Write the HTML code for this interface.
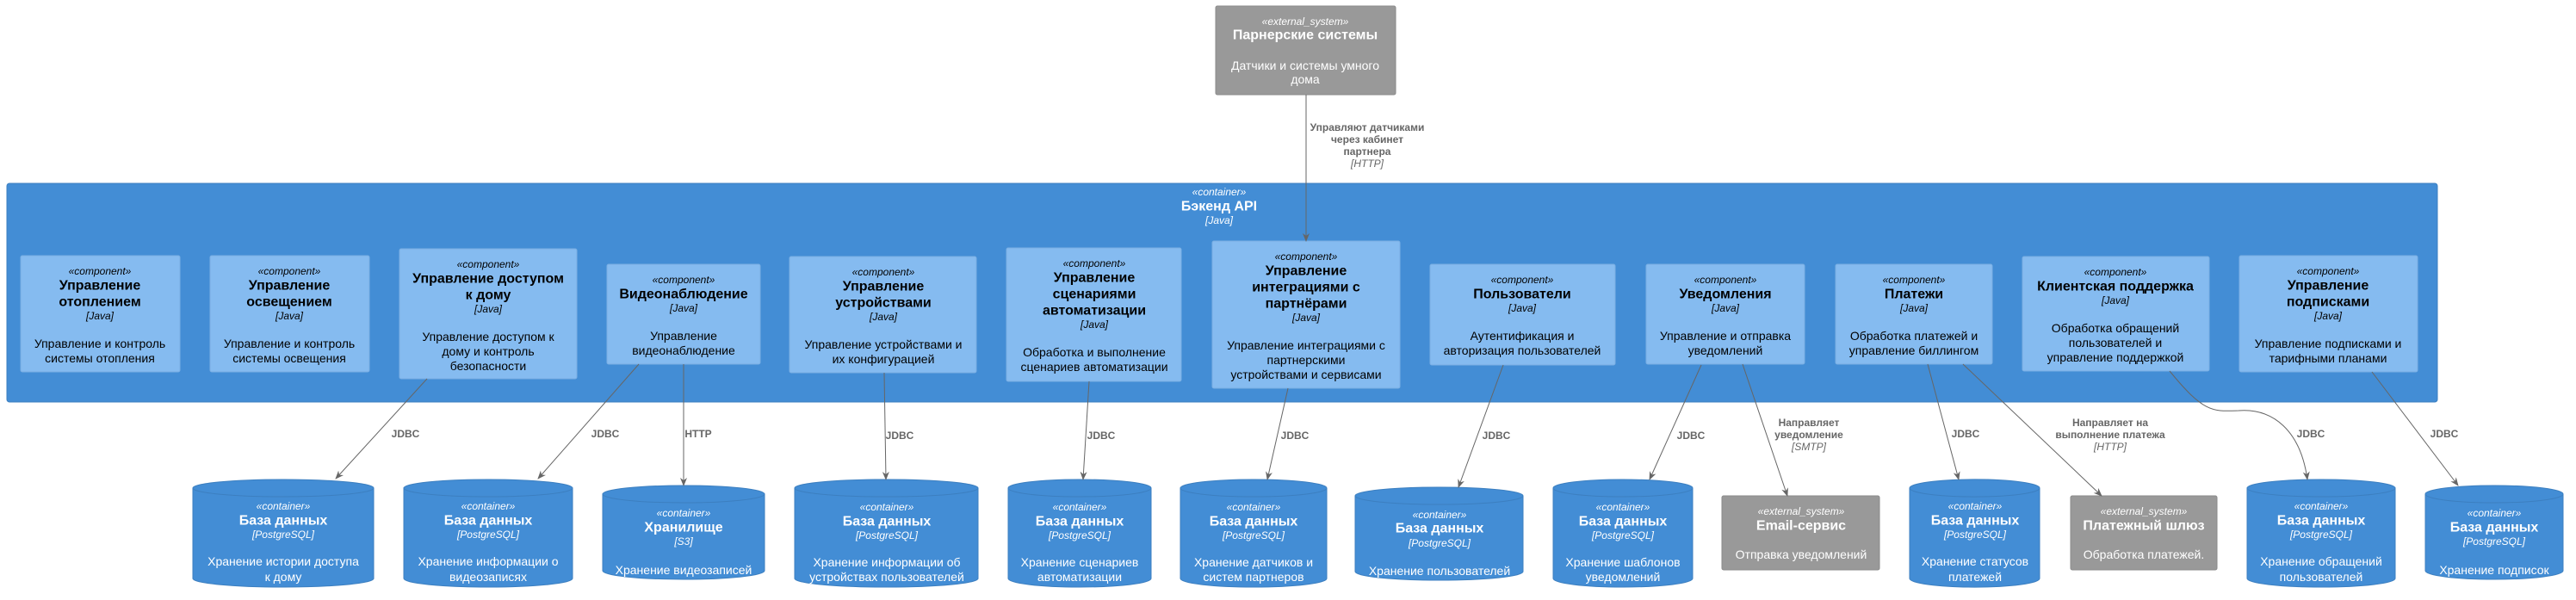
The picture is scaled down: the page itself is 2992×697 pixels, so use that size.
<!DOCTYPE html>
<html><head><meta charset="utf-8"><style>
html,body{margin:0;padding:0;background:#fff;}
svg{display:block;font-family:"Liberation Sans","DejaVu Sans",sans-serif;}
.st{font-size:12px;font-style:italic;}
.tt{font-size:16px;font-weight:bold;}
.te{font-size:12px;font-style:italic;}
.ds{font-size:14px;}
.c text{fill:#000;text-anchor:middle;dominant-baseline:central;}
.w text{fill:#fff;text-anchor:middle;dominant-baseline:central;}
.l{fill:#666;font-size:12px;font-weight:bold;text-anchor:middle;dominant-baseline:central;}
.li{fill:#666;font-size:12px;font-style:italic;text-anchor:middle;dominant-baseline:central;}
.cyl{fill:#438DD5;stroke:#3C7FC0;stroke-width:1;}
.ln{stroke:#666;stroke-width:1;fill:none;marker-end:url(#ah);}
</style></head><body>
<svg width="2992" height="697" viewBox="0 0 2992 697" xmlns="http://www.w3.org/2000/svg">
<defs><marker id="ah" markerWidth="10" markerHeight="10" refX="9" refY="5" orient="auto" markerUnits="userSpaceOnUse"><path d="M0,1 L10,5 L0,9 L3,5 Z" fill="#666"/></marker></defs>

<!-- Partner -->
<rect x="1412" y="7" width="209" height="103" rx="2" fill="#999" stroke="#8a8a8a"/>
<g class="w"><text x="1516" y="25" class="st">«external_system»</text><text x="1516" y="41" class="tt">Парнерские системы</text><text x="1516" y="76" class="ds">Датчики и системы умного</text><text x="1516" y="92" class="ds">дома</text></g>

<!-- Backend container -->
<rect x="8" y="213" width="2823" height="254" rx="3" fill="#438DD5" stroke="#3C7FC0"/>
<g class="w"><text x="1416" y="223" class="st">«container»</text><text x="1416" y="240" class="tt">Бэкенд API</text><text x="1416" y="256" class="te">[Java]</text></g>

<g class="c">
<rect x="24" y="297" width="185" height="135" rx="2" fill="#85BBF0" stroke="#7AAEE2"/>
<text x="116" y="315" class="st">«component»</text><text x="116" y="332" class="tt">Управление</text><text x="116" y="351" class="tt">отоплением</text><text x="116" y="367" class="te">[Java]</text><text x="116" y="399" class="ds">Управление и контроль</text><text x="116" y="416" class="ds">системы отопления</text>

<rect x="244" y="297" width="185" height="135" rx="2" fill="#85BBF0" stroke="#7AAEE2"/>
<text x="336" y="315" class="st">«component»</text><text x="336" y="332" class="tt">Управление</text><text x="336" y="351" class="tt">освещением</text><text x="336" y="367" class="te">[Java]</text><text x="336" y="399" class="ds">Управление и контроль</text><text x="336" y="416" class="ds">системы освещения</text>

<rect x="464" y="289" width="206" height="151" rx="2" fill="#85BBF0" stroke="#7AAEE2"/>
<text x="567" y="307" class="st">«component»</text><text x="567" y="324" class="tt">Управление доступом</text><text x="567" y="343" class="tt">к дому</text><text x="567" y="359" class="te">[Java]</text><text x="567" y="391" class="ds">Управление доступом к</text><text x="567" y="408" class="ds">дому и контроль</text><text x="567" y="425" class="ds">безопасности</text>

<rect x="705" y="307" width="178" height="116" rx="2" fill="#85BBF0" stroke="#7AAEE2"/>
<text x="794" y="325" class="st">«component»</text><text x="794" y="342" class="tt">Видеонаблюдение</text><text x="794" y="358" class="te">[Java]</text><text x="794" y="390" class="ds">Управление</text><text x="794" y="407" class="ds">видеонаблюдение</text>

<rect x="917" y="298" width="217" height="135" rx="2" fill="#85BBF0" stroke="#7AAEE2"/>
<text x="1026" y="316" class="st">«component»</text><text x="1026" y="333" class="tt">Управление</text><text x="1026" y="352" class="tt">устройствами</text><text x="1026" y="368" class="te">[Java]</text><text x="1026" y="400" class="ds">Управление устройствами и</text><text x="1026" y="417" class="ds">их конфигурацией</text>

<rect x="1169" y="288" width="203" height="155" rx="2" fill="#85BBF0" stroke="#7AAEE2"/>
<text x="1271" y="306" class="st">«component»</text><text x="1271" y="323" class="tt">Управление</text><text x="1271" y="342" class="tt">сценариями</text><text x="1271" y="361" class="tt">автоматизации</text><text x="1271" y="377" class="te">[Java]</text><text x="1271" y="409" class="ds">Обработка и выполнение</text><text x="1271" y="426" class="ds">сценариев автоматизации</text>

<rect x="1408" y="280" width="218" height="171" rx="2" fill="#85BBF0" stroke="#7AAEE2"/>
<text x="1517" y="298" class="st">«component»</text><text x="1517" y="315" class="tt">Управление</text><text x="1517" y="334" class="tt">интеграциями с</text><text x="1517" y="353" class="tt">партнёрами</text><text x="1517" y="369" class="te">[Java]</text><text x="1517" y="401" class="ds">Управление интеграциями с</text><text x="1517" y="418" class="ds">партнерскими</text><text x="1517" y="435" class="ds">устройствами и сервисами</text>

<rect x="1661" y="307" width="215" height="117" rx="2" fill="#85BBF0" stroke="#7AAEE2"/>
<text x="1768" y="325" class="st">«component»</text><text x="1768" y="342" class="tt">Пользователи</text><text x="1768" y="358" class="te">[Java]</text><text x="1768" y="390" class="ds">Аутентификация и</text><text x="1768" y="407" class="ds">авторизация пользователей</text>

<rect x="1912" y="307" width="184" height="116" rx="2" fill="#85BBF0" stroke="#7AAEE2"/>
<text x="2004" y="325" class="st">«component»</text><text x="2004" y="342" class="tt">Уведомления</text><text x="2004" y="358" class="te">[Java]</text><text x="2004" y="390" class="ds">Управление и отправка</text><text x="2004" y="407" class="ds">уведомлений</text>

<rect x="2132" y="307" width="182" height="116" rx="2" fill="#85BBF0" stroke="#7AAEE2"/>
<text x="2223" y="325" class="st">«component»</text><text x="2223" y="342" class="tt">Платежи</text><text x="2223" y="358" class="te">[Java]</text><text x="2223" y="390" class="ds">Обработка платежей и</text><text x="2223" y="407" class="ds">управление биллингом</text>

<rect x="2349" y="298" width="217" height="133" rx="2" fill="#85BBF0" stroke="#7AAEE2"/>
<text x="2457" y="316" class="st">«component»</text><text x="2457" y="333" class="tt">Клиентская поддержка</text><text x="2457" y="349" class="te">[Java]</text><text x="2457" y="381" class="ds">Обработка обращений</text><text x="2457" y="398" class="ds">пользователей и</text><text x="2457" y="415" class="ds">управление поддержкой</text>

<rect x="2601" y="297" width="207" height="135" rx="2" fill="#85BBF0" stroke="#7AAEE2"/>
<text x="2704" y="315" class="st">«component»</text><text x="2704" y="332" class="tt">Управление</text><text x="2704" y="351" class="tt">подписками</text><text x="2704" y="367" class="te">[Java]</text><text x="2704" y="399" class="ds">Управление подписками и</text><text x="2704" y="416" class="ds">тарифными планами</text>
</g>

<!-- Cylinders -->
<g class="w">
<path class="cyl" d="M224,567 A105,10 0 0 1 434,567 L434,672 A105,10 0 0 1 224,672 Z"/><path d="M224,567 A105,10 0 0 0 434,567" fill="none" stroke="#3C7FC0"/>
<text x="329" y="588" class="st">«container»</text><text x="329" y="605" class="tt">База данных</text><text x="329" y="621" class="te">[PostgreSQL]</text><text x="329" y="652" class="ds">Хранение истории доступа</text><text x="329" y="670" class="ds">к дому</text>

<path class="cyl" d="M469,567 A98,10 0 0 1 665,567 L665,672 A98,10 0 0 1 469,672 Z"/><path d="M469,567 A98,10 0 0 0 665,567" fill="none" stroke="#3C7FC0"/>
<text x="567" y="588" class="st">«container»</text><text x="567" y="605" class="tt">База данных</text><text x="567" y="621" class="te">[PostgreSQL]</text><text x="567" y="652" class="ds">Хранение информации о</text><text x="567" y="670" class="ds">видеозаписях</text>

<path class="cyl" d="M700,574 A94,10 0 0 1 888,574 L888,663 A94,10 0 0 1 700,663 Z"/><path d="M700,574 A94,10 0 0 0 888,574" fill="none" stroke="#3C7FC0"/>
<text x="794" y="596" class="st">«container»</text><text x="794" y="613" class="tt">Хранилище</text><text x="794" y="629" class="te">[S3]</text><text x="794" y="662" class="ds">Хранение видеозаписей</text>

<path class="cyl" d="M923,567 A106,10 0 0 1 1136,567 L1136,672 A106,10 0 0 1 923,672 Z"/><path d="M923,567 A106,10 0 0 0 1136,567" fill="none" stroke="#3C7FC0"/>
<text x="1030" y="589" class="st">«container»</text><text x="1030" y="606" class="tt">База данных</text><text x="1030" y="622" class="te">[PostgreSQL]</text><text x="1030" y="653" class="ds">Хранение информации об</text><text x="1030" y="670" class="ds">устройствах пользователей</text>

<path class="cyl" d="M1171,567 A83,10 0 0 1 1337,567 L1337,672 A83,10 0 0 1 1171,672 Z"/><path d="M1171,567 A83,10 0 0 0 1337,567" fill="none" stroke="#3C7FC0"/>
<text x="1254" y="589" class="st">«container»</text><text x="1254" y="606" class="tt">База данных</text><text x="1254" y="622" class="te">[PostgreSQL]</text><text x="1254" y="653" class="ds">Хранение сценариев</text><text x="1254" y="670" class="ds">автоматизации</text>

<path class="cyl" d="M1371,567 A85,10 0 0 1 1541,567 L1541,672 A85,10 0 0 1 1371,672 Z"/><path d="M1371,567 A85,10 0 0 0 1541,567" fill="none" stroke="#3C7FC0"/>
<text x="1456" y="589" class="st">«container»</text><text x="1456" y="606" class="tt">База данных</text><text x="1456" y="622" class="te">[PostgreSQL]</text><text x="1456" y="653" class="ds">Хранение датчиков и</text><text x="1456" y="670" class="ds">систем партнеров</text>

<path class="cyl" d="M1574,576 A97,10 0 0 1 1769,576 L1769,664 A97,10 0 0 1 1574,664 Z"/><path d="M1574,576 A97,10 0 0 0 1769,576" fill="none" stroke="#3C7FC0"/>
<text x="1672" y="598" class="st">«container»</text><text x="1672" y="614" class="tt">База данных</text><text x="1672" y="631" class="te">[PostgreSQL]</text><text x="1672" y="663" class="ds">Хранение пользователей</text>

<path class="cyl" d="M1804,567 A81,10 0 0 1 1966,567 L1966,672 A81,10 0 0 1 1804,672 Z"/><path d="M1804,567 A81,10 0 0 0 1966,567" fill="none" stroke="#3C7FC0"/>
<text x="1885" y="589" class="st">«container»</text><text x="1885" y="606" class="tt">База данных</text><text x="1885" y="622" class="te">[PostgreSQL]</text><text x="1885" y="653" class="ds">Хранение шаблонов</text><text x="1885" y="670" class="ds">уведомлений</text>

<rect x="2000" y="576" width="183" height="86" rx="2" fill="#999" stroke="#8a8a8a"/>
<text x="2092" y="594" class="st">«external_system»</text><text x="2092" y="611" class="tt">Email-сервис</text><text x="2092" y="644" class="ds">Отправка уведомлений</text>

<path class="cyl" d="M2218,567 A75,10 0 0 1 2369,567 L2369,672 A75,10 0 0 1 2218,672 Z"/><path d="M2218,567 A75,10 0 0 0 2369,567" fill="none" stroke="#3C7FC0"/>
<text x="2294" y="588" class="st">«container»</text><text x="2294" y="605" class="tt">База данных</text><text x="2294" y="621" class="te">[PostgreSQL]</text><text x="2294" y="652" class="ds">Хранение статусов</text><text x="2294" y="670" class="ds">платежей</text>

<rect x="2405" y="576" width="170" height="86" rx="2" fill="#999" stroke="#8a8a8a"/>
<text x="2490" y="594" class="st">«external_system»</text><text x="2490" y="611" class="tt">Платежный шлюз</text><text x="2490" y="644" class="ds">Обработка платежей.</text>

<path class="cyl" d="M2610,567 A86,10 0 0 1 2782,567 L2782,672 A86,10 0 0 1 2610,672 Z"/><path d="M2610,567 A86,10 0 0 0 2782,567" fill="none" stroke="#3C7FC0"/>
<text x="2696" y="588" class="st">«container»</text><text x="2696" y="605" class="tt">База данных</text><text x="2696" y="621" class="te">[PostgreSQL]</text><text x="2696" y="652" class="ds">Хранение обращений</text><text x="2696" y="670" class="ds">пользователей</text>

<path class="cyl" d="M2817,574 A80,10 0 0 1 2977,574 L2977,663 A80,10 0 0 1 2817,663 Z"/><path d="M2817,574 A80,10 0 0 0 2977,574" fill="none" stroke="#3C7FC0"/>
<text x="2897" y="596" class="st">«container»</text><text x="2897" y="613" class="tt">База данных</text><text x="2897" y="629" class="te">[PostgreSQL]</text><text x="2897" y="662" class="ds">Хранение подписок</text>
</g>

<!-- Connectors -->
<path class="ln" d="M1517,110 L1517,280"/>
<path class="ln" d="M496,440 L390,556"/>
<path class="ln" d="M742,423 L625,556"/>
<path class="ln" d="M794,423 L794,564"/>
<path class="ln" d="M1027,433 L1029,557"/>
<path class="ln" d="M1265,443 L1258,557"/>
<path class="ln" d="M1496,451 L1472,557"/>
<path class="ln" d="M1746,424 L1694,566"/>
<path class="ln" d="M1976,424 L1916,557"/>
<path class="ln" d="M2024,423 L2076,576"/>
<path class="ln" d="M2239,423 L2275,557"/>
<path class="ln" d="M2280,423 L2441,576"/>
<path class="ln" d="M2520,431 C2560,480 2570,478 2600,477 C2640,474 2672,500 2680,557"/>
<path class="ln" d="M2755,432 L2855,564"/>

<!-- Labels -->
<text x="1588" y="148" class="l">Управляют датчиками</text>
<text x="1588" y="162" class="l">через кабинет</text>
<text x="1588" y="176" class="l">партнера</text>
<text x="1588" y="190" class="li">[HTTP]</text>
<text x="471" y="504" class="l">JDBC</text>
<text x="703" y="504" class="l">JDBC</text>
<text x="811" y="504" class="l">HTTP</text>
<text x="1045" y="506" class="l">JDBC</text>
<text x="1279" y="506" class="l">JDBC</text>
<text x="1504" y="506" class="l">JDBC</text>
<text x="1738" y="506" class="l">JDBC</text>
<text x="1964" y="506" class="l">JDBC</text>
<text x="2101" y="491" class="l">Направляет</text>
<text x="2101" y="505" class="l">уведомление</text>
<text x="2101" y="519" class="li">[SMTP]</text>
<text x="2283" y="504" class="l">JDBC</text>
<text x="2451" y="491" class="l">Направляет на</text>
<text x="2451" y="505" class="l">выполнение платежа</text>
<text x="2451" y="519" class="li">[HTTP]</text>
<text x="2684" y="504" class="l">JDBC</text>
<text x="2839" y="504" class="l">JDBC</text>
</svg>
</body></html>
